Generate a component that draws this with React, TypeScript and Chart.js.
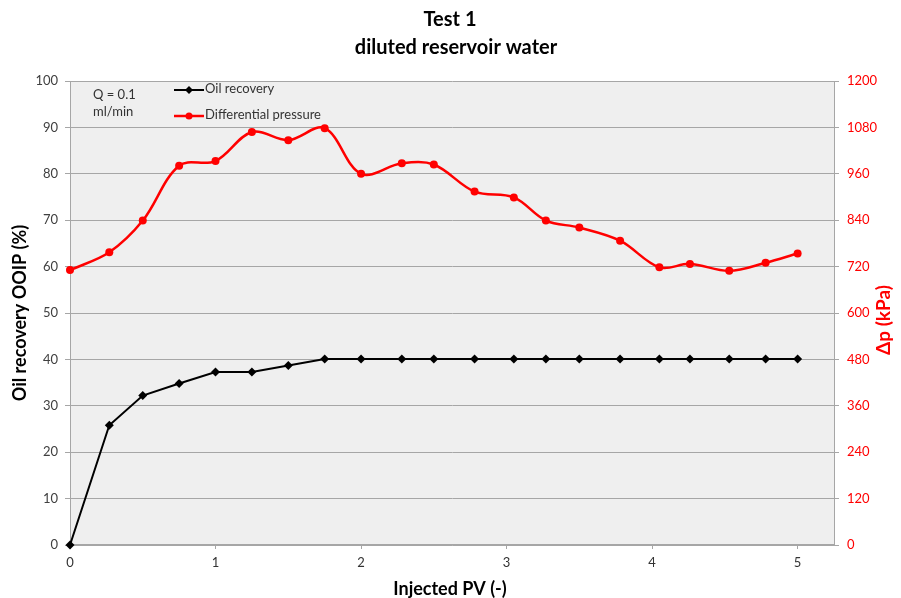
import React, { useEffect, useRef } from "react";
import { Chart, registerables } from "chart.js";

Chart.register(...registerables);

const titleLines = ["Test 1", "diluted reservoir water"];
const xTitle = "Injected PV (-)";
const yLeftTitle = "Oil recovery OOIP (%)";
const yRightTitle = "\u0394p (kPa)";
const noteLines = ["Q = 0.1", "ml/min"];
const seriesNames = ["Oil recovery", "Differential pressure"];

const pvValues = [0, 0.27, 0.5, 0.75, 1.0, 1.25, 1.5, 1.75, 2.0, 2.28, 2.5, 2.78, 3.05, 3.27, 3.5, 3.78, 4.05, 4.26, 4.53, 4.78, 5.0];
const oilRecovery = [0, 25.8, 32.2, 34.8, 37.3, 37.3, 38.7, 40.1, 40.1, 40.1, 40.1, 40.1, 40.1, 40.1, 40.1, 40.1, 40.1, 40.1, 40.1, 40.1, 40.1];
const diffPressure = [711, 757, 839, 981, 993, 1068, 1047, 1078, 960, 987, 984, 914, 899, 839, 821, 787, 718, 727, 709, 730, 754];

const xMin = 0;
const xMax = 5.25;
const yLeftMax = 100;
const yRightMax = 1200;

const FONT = "Lato, 'Open Sans', sans-serif";
const GRID = "#a6a6a6";

const decorPlugin = {
  id: "decor",
  beforeDraw(chart: any) {
    const { ctx, chartArea } = chart;
    ctx.save();
    ctx.fillStyle = "#ffffff";
    ctx.fillRect(0, 0, chart.width, chart.height);
    ctx.fillStyle = "#efefef";
    ctx.fillRect(chartArea.left, chartArea.top, chartArea.right - chartArea.left, chartArea.bottom - chartArea.top);
    ctx.restore();
  },
  afterDraw(chart: any) {
    const { ctx, chartArea } = chart;
    const cx = (chartArea.left + chartArea.right) / 2;
    const cy = (chartArea.top + chartArea.bottom) / 2;
    ctx.save();
    ctx.fillStyle = "#000000";
    ctx.textAlign = "center";
    ctx.textBaseline = "middle";
    ctx.font = `bold 20px ${FONT}`;
    ctx.fillText(titleLines[0], 450, 20);
    ctx.fillText(titleLines[1], 456, 48);
    ctx.font = `bold 18px ${FONT}`;
    ctx.fillText(xTitle, cx - 2, 589);
    ctx.save();
    ctx.translate(20, cy);
    ctx.rotate(-Math.PI / 2);
    ctx.fillText(yLeftTitle, 0, 0);
    ctx.restore();
    ctx.save();
    ctx.fillStyle = "#ff0000";
    ctx.font = `bold 19px ${FONT}`;
    ctx.translate(884, 320);
    ctx.rotate(-Math.PI / 2);
    ctx.fillText(yRightTitle, 0, 0);
    ctx.restore();
    ctx.font = `13px ${FONT}`;
    ctx.fillStyle = "#333333";
    ctx.textAlign = "left";
    ctx.fillText(noteLines[0], 93, 95);
    ctx.fillText(noteLines[1], 93, 112);
    const items = [
      { y: 90, color: "#000000", style: "diamond" },
      { y: 116, color: "#ff0000", style: "circle" },
    ];
    items.forEach((it, i) => {
      ctx.strokeStyle = it.color;
      ctx.lineWidth = it.style === "circle" ? 2.5 : 2;
      ctx.beginPath();
      ctx.moveTo(174, it.y);
      ctx.lineTo(204, it.y);
      ctx.stroke();
      ctx.fillStyle = it.color;
      ctx.beginPath();
      if (it.style === "circle") {
        ctx.arc(189, it.y, 3.5, 0, Math.PI * 2);
      } else {
        ctx.moveTo(189, it.y - 4);
        ctx.lineTo(193, it.y);
        ctx.lineTo(189, it.y + 4);
        ctx.lineTo(185, it.y);
        ctx.closePath();
      }
      ctx.fill();
      ctx.fillStyle = "#333333";
      ctx.fillText(seriesNames[i], 205, it.y - 1);
    });
    ctx.restore();
  },
};

export default function App() {
  const ref = useRef<HTMLCanvasElement | null>(null);
  useEffect(() => {
    if (!ref.current) return;
    const chart = new Chart(ref.current, {
      type: "line",
      data: {
        datasets: [
          {
            label: seriesNames[1],
            data: pvValues.map((x, i) => ({ x, y: diffPressure[i] })),
            yAxisID: "y1",
            borderColor: "#ff0000",
            backgroundColor: "#ff0000",
            borderWidth: 2.5,
            pointRadius: 4,
            pointStyle: "circle",
            pointBorderWidth: 0,
            tension: 0.35,
            clip: false as any,
            order: 2,
          },
          {
            label: seriesNames[0],
            data: pvValues.map((x, i) => ({ x, y: oilRecovery[i] })),
            yAxisID: "y",
            borderColor: "#000000",
            backgroundColor: "#000000",
            borderWidth: 2,
            pointRadius: 4.5,
            pointStyle: "rectRot",
            pointBorderWidth: 0,
            tension: 0,
            clip: false as any,
            order: 1,
          },
        ],
      },
      options: {
        animation: false,
        responsive: false,
        maintainAspectRatio: false,
        layout: { padding: { top: 81, left: 0, right: 0, bottom: 0 } },
        plugins: {
          legend: { display: false },
          title: { display: false },
          tooltip: { enabled: false },
        },
        scales: {
          x: {
            type: "linear",
            min: xMin,
            max: xMax,
            afterFit: (s: any) => { s.height = 53; },
            grid: { drawOnChartArea: false, drawTicks: true, tickLength: 4, color: GRID },
            border: { color: GRID, width: 1.5 },
            ticks: {
              stepSize: 1,
              includeBounds: false,
              padding: 6,
              color: "#333333",
              font: { family: FONT, size: 13 },
              maxRotation: 0,
              callback: (v: any) => String(v),
            },
          },
          y: {
            type: "linear",
            position: "left",
            min: 0,
            max: yLeftMax,
            afterFit: (s: any) => { s.width = 70; },
            grid: { color: GRID, tickLength: 5, lineWidth: 1 },
            border: { color: GRID, width: 1 },
            ticks: {
              stepSize: 10,
              padding: 7,
              color: "#404040",
              font: { family: FONT, size: 13 },
              callback: (v: any) => String(v),
            },
          },
          y1: {
            type: "linear",
            position: "right",
            min: 0,
            max: yRightMax,
            afterFit: (s: any) => { s.width = 67; },
            grid: { drawOnChartArea: false, color: GRID, tickLength: 5 },
            border: { color: GRID, width: 1 },
            ticks: {
              stepSize: 120,
              padding: 8,
              color: "#ff0000",
              font: { family: FONT, size: 13 },
              callback: (v: any) => String(v),
            },
          },
        },
      },
      plugins: [decorPlugin],
    });
    return () => chart.destroy();
  }, []);
  return (
    <div style={{ position: "fixed", left: 0, top: 0, width: 901, height: 598, background: "#fff" }}>
      <canvas ref={ref} width={901} height={598} style={{ width: 901, height: 598, display: "block" }} />
    </div>
  );
}
